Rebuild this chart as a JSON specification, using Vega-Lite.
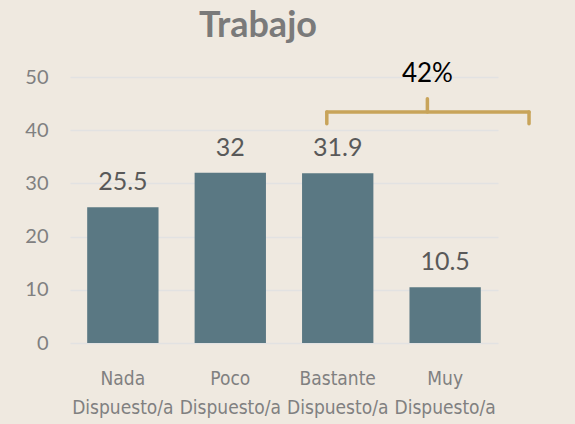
{
  "$schema": "https://vega.github.io/schema/vega-lite/v6.json",
  "width": 428,
  "height": 266,
  "autosize": {"type": "none"},
  "padding": {"left": 70, "top": 77, "right": 77, "bottom": 81},
  "background": "#efe9e0",
  "title": {
    "text": "Trabajo",
    "font": "Lato",
    "fontSize": 36,
    "fontWeight": "bold",
    "color": "#7a7a7a",
    "anchor": "middle",
    "dx": -26,
    "offset": 16
  },
  "config": {
    "view": {"stroke": null},
    "axis": {"labelFont": "Lato", "labelColor": "#808080", "labelFontSize": 20, "grid": false, "domain": false, "ticks": false, "title": null}
  },
  "layer": [
    {
      "data": {
        "values": [
          {"categoria": "Nada Dispuesto/a", "valor": 25.5},
          {"categoria": "Poco Dispuesto/a", "valor": 32},
          {"categoria": "Bastante Dispuesto/a", "valor": 31.9},
          {"categoria": "Muy Dispuesto/a", "valor": 10.5}
        ]
      },
      "encoding": {
        "x": {
          "field": "categoria",
          "type": "nominal",
          "sort": null,
          "scale": {"paddingInner": 0.336, "paddingOuter": 0.16},
          "axis": {"labelAngle": 0, "labelPadding": 26, "labelFont": "DejaVu Sans Condensed", "labelFontSize": 19, "labelExpr": "split(datum.label, ' ')", "labelLineHeight": 29}
        },
        "y": {
          "field": "valor",
          "type": "quantitative",
          "scale": {"domain": [0, 50]},
          "axis": {"values": [0, 10, 20, 30, 40, 50], "grid": true, "gridColor": "#e2e2e2", "gridWidth": 1.5, "labelPadding": 22}
        }
      },
      "layer": [
        {"mark": {"type": "bar", "color": "#5a7883"}},
        {
          "mark": {"type": "text", "baseline": "bottom", "dy": -12, "font": "Lato", "fontSize": 25, "color": "#595959"},
          "encoding": {"text": {"field": "valor", "type": "quantitative"}}
        }
      ]
    },
    {
      "data": {
        "values": [
          {"x": 2.4, "x2": 4.29, "y": 43.4, "y2": 43.4},
          {"x": 2.4, "x2": 2.4, "y": 41.2, "y2": 43.4},
          {"x": 4.29, "x2": 4.29, "y": 41.2, "y2": 43.4},
          {"x": 3.34, "x2": 3.34, "y": 43.4, "y2": 45.9}
        ]
      },
      "mark": {"type": "rule", "color": "#c8a45a", "strokeWidth": 3.5, "strokeCap": "round"},
      "encoding": {
        "x": {"field": "x", "type": "quantitative", "scale": {"domain": [0, 4], "nice": false, "zero": false}, "axis": null},
        "x2": {"field": "x2"},
        "y": {"field": "y", "type": "quantitative"},
        "y2": {"field": "y2"}
      }
    },
    {
      "data": {"values": [{"x": 3.34, "y": 50.6, "etiqueta": "42%"}]},
      "mark": {"type": "text", "baseline": "middle", "font": "Lato", "fontSize": 26, "color": "#000000"},
      "encoding": {
        "x": {"field": "x", "type": "quantitative", "scale": {"domain": [0, 4], "nice": false, "zero": false}, "axis": null},
        "y": {"field": "y", "type": "quantitative"},
        "text": {"field": "etiqueta"}
      }
    }
  ],
  "resolve": {"scale": {"x": "independent"}}
}
